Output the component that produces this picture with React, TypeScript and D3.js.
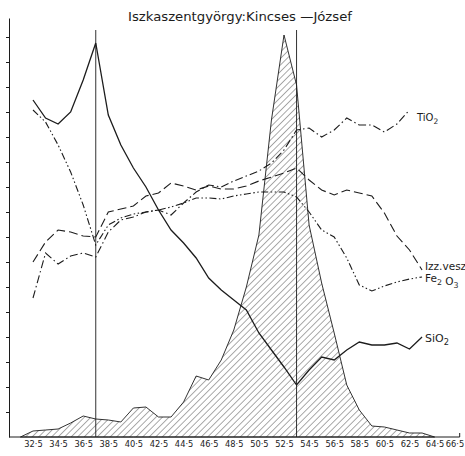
// @ts-nocheck
import React, { useEffect, useRef } from "react";
import * as d3 from "d3";

const title = "Iszkaszentgyörgy:Kincses —József";

// x axis tick labels (grain size classes)
const tickValues = [32.5, 34.5, 36.5, 38.5, 40.5, 42.5, 44.5, 46.5, 48.5, 50.5, 52.5, 54.5, 56.5, 58.5, 60.5, 62.5, 64.5, 66.5];
const tickLabels = ["32·5", "34·5", "36·5", "38·5", "40·5", "42·5", "44·5", "46·5", "48·5", "50·5", "52·5", "54·5", "56·5", "58·5", "60·5", "62·5", "64·5", "66·5"];

// sample positions of the chemistry curves
const grain = [32.5, 33.5, 34.5, 35.5, 36.5, 37.5, 38.5, 39.5, 40.5, 41.5, 42.5, 43.5, 44.5, 45.5, 46.5, 47.5, 48.5, 49.5, 50.5, 51.5, 52.5, 53.5, 54.5, 55.5, 56.5, 57.5, 58.5, 59.5, 60.5, 61.5, 62.5, 63.5];

const sio2 = [13.48, 12.76, 12.52, 13.0, 14.28, 15.76, 12.88, 11.68, 10.76, 10.0, 9.08, 8.28, 7.76, 7.16, 6.36, 5.88, 5.48, 5.08, 4.16, 3.48, 2.8, 2.08, 2.68, 3.2, 3.08, 3.48, 3.8, 3.68, 3.68, 3.76, 3.52, 4.0];
const tio2 = [5.56, 7.36, 6.92, 7.24, 7.36, 7.2, 8.2, 8.68, 8.8, 9.0, 9.08, 8.88, 9.36, 9.8, 10.08, 10.0, 10.24, 10.44, 10.64, 10.96, 11.48, 12.28, 12.36, 12.0, 12.28, 12.76, 12.48, 12.48, 12.2, 12.52, 13.08];
const fe2o3 = [13.08, 12.6, 11.68, 10.6, 9.28, 7.68, 8.48, 8.76, 8.92, 9.0, 9.08, 9.2, 9.36, 9.56, 9.56, 9.52, 9.64, 9.72, 9.8, 9.8, 9.8, 9.6, 9.0, 8.28, 8.0, 7.16, 6.08, 5.84, 6.04, 6.2, 6.32, 6.4];
const izzVesz = [7.0, 7.8, 8.28, 8.2, 8.04, 8.0, 9.0, 9.12, 9.24, 9.64, 9.76, 10.16, 10.04, 9.88, 10.04, 9.92, 9.92, 10.04, 10.24, 10.4, 10.56, 10.76, 10.28, 9.88, 9.68, 9.88, 9.76, 9.64, 8.96, 8.04, 7.48, 6.68];

// grain distribution (hatched)
const histGrain = [31.5, 32.5, 33.5, 34.5, 35.5, 36.5, 37.5, 38.5, 39.5, 40.5, 41.5, 42.5, 43.5, 44.5, 45.5, 46.5, 47.5, 48.5, 49.5, 50.5, 51.5, 52.5, 53.5, 54.5, 55.5, 56.5, 57.5, 58.5, 59.5, 60.5, 61.5, 62.5, 63.5, 64.5];
const histValues = [0, 0.24, 0.28, 0.32, 0.56, 0.84, 0.72, 0.68, 0.6, 1.16, 1.2, 0.8, 0.8, 1.4, 2.44, 2.28, 3.08, 4.28, 6.0, 8.08, 12.68, 16.08, 14.08, 8.48, 6.16, 4.16, 2.08, 1.08, 0.44, 0.4, 0.28, 0.16, 0.16, 0];

const yTicks = [1, 2, 3, 4, 5, 6, 7, 8, 9, 10, 11, 12, 13, 14, 15, 16];
const markers = [37.5, 53.5];

const ink = "#1c1c1c";
const font = "'DejaVu Sans', sans-serif";

function App() {
  const ref = useRef(null);

  useEffect(() => {
    const svg = d3.select(ref.current);
    svg.selectAll("*").remove();

    const left = 9;
    const x = d3.scaleLinear().domain([32.5, 66.5]).range([33, 459.7]);
    const y = d3.scaleLinear().domain([0, 16.76]).range([437, 18]);

    // hatch pattern
    const defs = svg.append("defs");
    const pat = defs
      .append("pattern")
      .attr("id", "hatch")
      .attr("patternUnits", "userSpaceOnUse")
      .attr("width", 4.6)
      .attr("height", 4.6)
      .attr("patternTransform", "rotate(45)");
    pat
      .append("line")
      .attr("x1", 0)
      .attr("y1", 0)
      .attr("x2", 0)
      .attr("y2", 4.6)
      .attr("stroke", ink)
      .attr("stroke-width", 0.75);

    // distribution area
    const area = d3
      .area()
      .x((d) => x(d[0]))
      .y0(y(0))
      .y1((d) => y(d[1]));
    svg
      .append("path")
      .attr("d", area(histGrain.map((g, i) => [g, histValues[i]])))
      .attr("fill", "url(#hatch)")
      .attr("stroke", ink)
      .attr("stroke-width", 0.9);

    // vertical markers
    markers.forEach((m) => {
      svg
        .append("line")
        .attr("x1", x(m))
        .attr("x2", x(m))
        .attr("y1", 30)
        .attr("y2", y(0))
        .attr("stroke", ink)
        .attr("stroke-width", 0.9);
    });

    // left axis
    const yAxis = d3.axisLeft(y).tickValues(yTicks).tickSize(3).tickSizeOuter(0).tickFormat(() => "");
    const ga = svg.append("g").attr("transform", `translate(${left},0)`).call(yAxis);
    ga.select(".domain").attr("stroke", ink);
    ga.selectAll(".tick line").attr("stroke", ink);

    // bottom axis
    svg
      .append("line")
      .attr("x1", left)
      .attr("x2", x(66.5))
      .attr("y1", y(0))
      .attr("y2", y(0))
      .attr("stroke", ink)
      .attr("stroke-width", 1);
    svg
      .append("line")
      .attr("x1", x(66.5))
      .attr("x2", x(66.5))
      .attr("y1", y(0) - 4)
      .attr("y2", y(0))
      .attr("stroke", ink);
    const xAxis = d3
      .axisBottom(x)
      .tickValues(tickValues)
      .tickSize(0)
      .tickPadding(4)
      .tickFormat((d, i) => tickLabels[i]);
    const gx = svg.append("g").attr("transform", `translate(0,${y(0)})`).call(xAxis);
    gx.select(".domain").remove();
    gx.selectAll("text").attr("font-family", font).attr("font-size", 8.3).attr("fill", ink);
    // last label sits against the right edge
    gx.selectAll("text")
      .filter((d) => d === 66.5)
      .attr("text-anchor", "end")
      .attr("dx", 4);

    // chemistry curves
    const line = d3
      .line()
      .x((d) => x(d[0]))
      .y((d) => y(d[1]));
    const series = [
      { values: sio2, dash: null, width: 1.3 },
      { values: tio2, dash: "8,3,1.5,3", width: 1.1 },
      { values: fe2o3, dash: "7,2.5,1.5,2.5,1.5,2.5", width: 1.1 },
      { values: izzVesz, dash: "9,4", width: 1.1 },
    ];
    series.forEach((s) => {
      svg
        .append("path")
        .attr("d", line(s.values.map((v, i) => [grain[i], v])))
        .attr("fill", "none")
        .attr("stroke", ink)
        .attr("stroke-width", s.width)
        .attr("stroke-dasharray", s.dash);
    });

    // curve labels
    const label = (tx, ty, main, sub, size) => {
      const t = svg
        .append("text")
        .attr("x", tx)
        .attr("y", ty)
        .attr("font-family", font)
        .attr("font-size", size)
        .attr("fill", ink);
      main.forEach((part, i) => {
        t.append("tspan").text(part);
        if (sub[i]) {
          t.append("tspan").attr("dy", 3).attr("font-size", size * 0.75).text(sub[i]);
          t.append("tspan").attr("dy", -3).text("");
        }
      });
    };
    label(417, 121, ["TiO"], ["2"], 10);
    label(425, 270, ["Izz.vesz"], [], 10.5);
    label(425, 282, ["Fe", " O"], ["2", "3"], 10.5);
    label(425, 342, ["SiO"], ["2"], 11);

    // title
    svg
      .append("text")
      .attr("x", 128)
      .attr("y", 21)
      .attr("font-family", font)
      .attr("font-size", 13)
      .attr("textLength", 224)
      .attr("lengthAdjust", "spacingAndGlyphs")
      .attr("fill", ink)
      .text(title);
  }, []);

  return (
    <svg
      ref={ref}
      width={465}
      height={456}
      style={{ position: "absolute", left: 0, top: 0, background: "#fff" }}
    />
  );
}

export default App;
